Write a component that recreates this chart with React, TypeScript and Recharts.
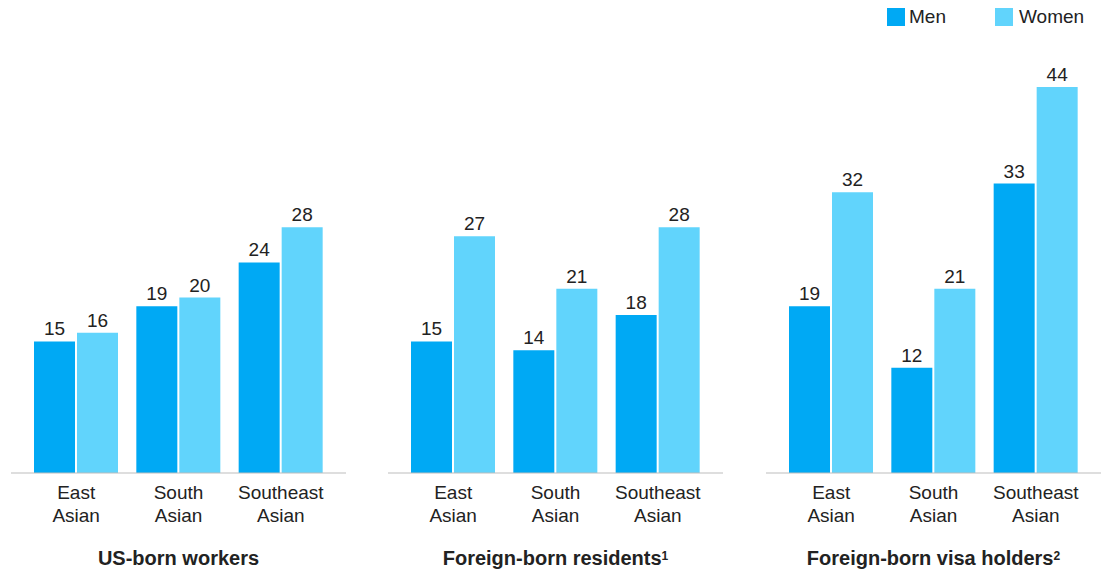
import React from 'react';
import { BarChart, Bar, XAxis, YAxis, LabelList } from 'recharts';

const categories = ['East Asian', 'South Asian', 'Southeast Asian'];
const usBornMen = [15, 19, 24];
const usBornWomen = [16, 20, 28];
const residentsMen = [15, 14, 18];
const residentsWomen = [27, 21, 28];
const visaMen = [19, 12, 33];
const visaWomen = [32, 21, 44];

const panelTitles = ['US-born workers', 'Foreign-born residents', 'Foreign-born visa holders'];
const panelNotes = ['', '1', '2'];

const MEN = '#00A9F4';
const WOMEN = '#61D4FC';
const FONT = '"Liberation Sans", Arial, sans-serif';
const TEXT = '#222';

const build = (men: number[], women: number[]) =>
  categories.map((c, i) => ({ cat: c, men: men[i], women: women[i] }));

const panels = [
  { data: build(usBornMen, usBornWomen), left: 11 },
  { data: build(residentsMen, residentsWomen), left: 388 },
  { data: build(visaMen, visaWomen), left: 766 },
];

const CHART_TOP = 60;
const MARGIN_TOP = 27;
const PLOT_H = 386;
const AXIS_H = 70;
const CHART_W = 335;
const CHART_H = MARGIN_TOP + PLOT_H + AXIS_H;

const Tick = (props: any) => {
  const { x, y, payload } = props;
  const words = String(payload.value).split(' ');
  return (
    <text x={x} y={y} textAnchor="middle" fill={TEXT} fontSize={19} fontFamily={FONT}>
      <tspan x={x} dy={26}>{words[0]}</tspan>
      <tspan x={x} dy={23}>{words[1]}</tspan>
    </text>
  );
};

export default function App() {
  return (
    <div style={{ position: 'absolute', left: 0, top: 0, width: 1107, height: 573, background: '#fff', fontFamily: FONT }}>
      {/* Legend */}
      <div style={{ position: 'absolute', left: 887, top: 8, width: 18, height: 18, background: MEN }} />
      <div style={{ position: 'absolute', left: 909, top: 5, fontSize: 19, color: TEXT, lineHeight: '24px' }}>Men</div>
      <div style={{ position: 'absolute', left: 995, top: 8, width: 18, height: 18, background: WOMEN }} />
      <div style={{ position: 'absolute', left: 1019, top: 5, fontSize: 19, color: TEXT, lineHeight: '24px' }}>Women</div>

      {panels.map((p, idx) => (
        <div key={idx} style={{ position: 'absolute', left: p.left, top: CHART_TOP }}>
          <BarChart
            width={CHART_W}
            height={CHART_H}
            data={p.data}
            margin={{ top: MARGIN_TOP, right: 0, bottom: 0, left: 0 }}
            barGap={2}
            barSize={41}
          >
            <XAxis
              dataKey="cat"
              axisLine={{ stroke: '#BDBDBD', strokeWidth: 1 }}
              tickLine={false}
              tickSize={0}
              tickMargin={0}
              interval={0}
              padding={{ left: 14, right: 14 }}
              tick={<Tick />}
              height={AXIS_H}
            />
            <YAxis hide domain={[0, 44]} />
            <Bar dataKey="men" fill={MEN} isAnimationActive={false}>
              <LabelList dataKey="men" position="top" offset={6} fill={TEXT} fontSize={19} fontFamily={FONT} />
            </Bar>
            <Bar dataKey="women" fill={WOMEN} isAnimationActive={false}>
              <LabelList dataKey="women" position="top" offset={6} fill={TEXT} fontSize={19} fontFamily={FONT} />
            </Bar>
          </BarChart>
        </div>
      ))}

      {panels.map((p, idx) => (
        <div
          key={'t' + idx}
          style={{
            position: 'absolute',
            left: p.left,
            width: CHART_W,
            top: 545,
            textAlign: 'center',
            fontSize: 20,
            fontWeight: 'bold',
            color: TEXT,
            lineHeight: '26px',
          }}
        >
          {panelTitles[idx]}
          {panelNotes[idx] && (
            <span style={{ fontSize: 12, verticalAlign: 'top', position: 'relative', top: -2 }}>{panelNotes[idx]}</span>
          )}
        </div>
      ))}
    </div>
  );
}
